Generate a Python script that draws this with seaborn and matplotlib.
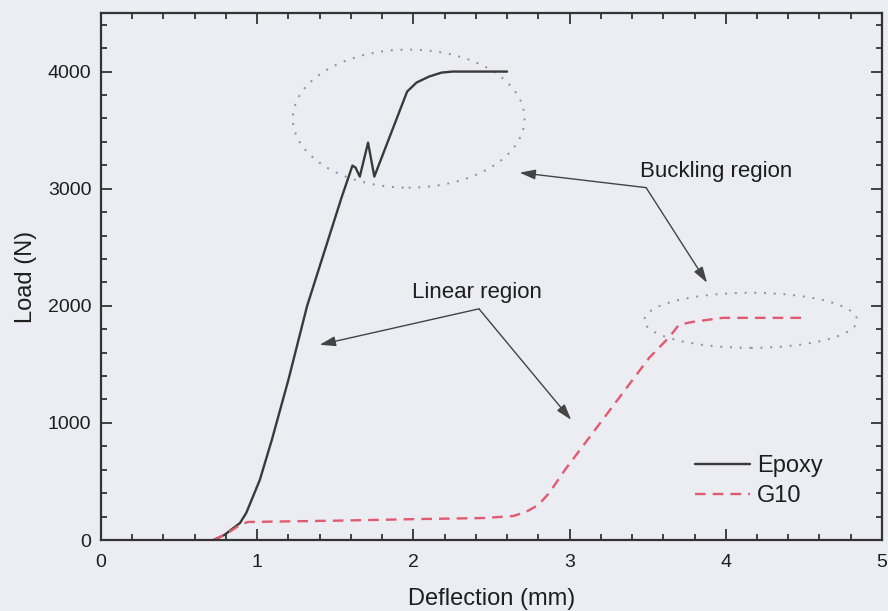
import matplotlib
matplotlib.use("Agg")
import matplotlib.pyplot as plt
from matplotlib.patches import Ellipse
from matplotlib.ticker import MultipleLocator
import seaborn as sns
import pandas as pd

# ---- data ----
epoxy_x = [0.72, 0.79, 0.89, 0.93, 1.017, 1.094, 1.20, 1.32, 1.54, 1.61, 1.63, 1.657,
           1.71, 1.75, 1.96, 2.02, 2.10, 2.18, 2.25, 2.60]
epoxy_y = [0, 43, 145, 231, 513, 855, 1368, 2000, 2923, 3197, 3180, 3103,
           3393, 3103, 3829, 3906, 3957, 3991, 4000, 4000]
g10_x = [0.72, 0.80, 0.89, 0.94, 1.50, 2.00, 2.46, 2.64, 2.72, 2.80, 2.87, 2.97,
         3.51, 3.64, 3.70, 3.79, 3.98, 4.50]
g10_y = [0, 50, 128, 154, 165, 178, 188, 205, 239, 299, 402, 598,
         1556, 1735, 1838, 1863, 1897, 1897]

x_ticks = [0, 1, 2, 3, 4, 5]
y_ticks = [0, 1000, 2000, 3000, 4000]
series_names = ["Epoxy", "G10"]

# ---- style ----
sns.set_theme(style="ticks")
plt.rcParams["font.family"] = ["Liberation Sans", "DejaVu Sans"]
bg = "#ececf3"
fig = plt.figure(figsize=(8.88, 6.11), dpi=100, facecolor=bg)
ax = fig.add_axes([0.1137, 0.1162, 0.8795, 0.8625])
ax.set_facecolor(bg)

df_e = pd.DataFrame({"x": epoxy_x, "y": epoxy_y})
df_g = pd.DataFrame({"x": g10_x, "y": g10_y})
sns.lineplot(data=df_e, x="x", y="y", ax=ax, color="#3a3a3a", lw=1.7,
             label=series_names[0], sort=False)
sns.lineplot(data=df_g, x="x", y="y", ax=ax, color="#e05a70", lw=1.7,
             linestyle=(0, (4.5, 3)), label=series_names[1], sort=False)

ax.set_xlim(0, 5)
ax.set_ylim(0, 4500)
ax.set_xticks(x_ticks)
ax.set_yticks(y_ticks)
ax.xaxis.set_minor_locator(MultipleLocator(0.2))
ax.yaxis.set_minor_locator(MultipleLocator(200))
ax.tick_params(which="both", direction="in", top=True, right=True,
               colors="#333333", labelcolor="#1e1e1e", labelsize=14, width=1.3)
ax.tick_params(which="major", length=8)
ax.tick_params(which="minor", length=4.5)
ax.tick_params(axis="x", which="major", pad=10)
ax.tick_params(axis="y", which="major", pad=7)
for s in ax.spines.values():
    s.set_color("#333333")
    s.set_linewidth(1.6)

ax.set_xlabel("Deflection (mm)", fontsize=17, color="#1e1e1e", labelpad=12)
ax.set_ylabel("Load (N)", fontsize=17, color="#1e1e1e", labelpad=8)

# ---- region ellipses ----
ell_kw = dict(fill=False, edgecolor="#8e8ea8", lw=1.4, linestyle=(0, (1, 4)))
ax.add_patch(Ellipse((1.97, 3598), 1.484, 1179, **ell_kw))
ax.add_patch(Ellipse((4.16, 1876), 1.363, 470, **ell_kw))

# ---- annotations ----
arrow_kw = dict(arrowstyle="-|>,head_length=0.8,head_width=0.25", color="#444444",
                lw=1.0, shrinkA=0, shrinkB=0)
buck_vertex = (3.49, 3009)
for head in [(2.68, 3137), (3.88, 2197)]:
    ax.annotate("", xy=head, xytext=buck_vertex, arrowprops=arrow_kw)
ax.text(3.45, 3150, "Buckling region", fontsize=16, color="#1e1e1e",
        va="center", ha="left")

lin_vertex = (2.42, 1974)
for head in [(1.40, 1667), (3.01, 1026)]:
    ax.annotate("", xy=head, xytext=lin_vertex, arrowprops=arrow_kw)
ax.text(1.99, 2110, "Linear region", fontsize=16, color="#1e1e1e",
        va="center", ha="left")

leg = ax.legend(loc="center left", bbox_to_anchor=(0.733, 0.112), frameon=False,
                fontsize=17, handlelength=2.35, handletextpad=0.3, labelspacing=0.35)
for t in leg.get_texts():
    t.set_color("#1e1e1e")

fig.savefig("out.png", dpi=100, facecolor=bg)
